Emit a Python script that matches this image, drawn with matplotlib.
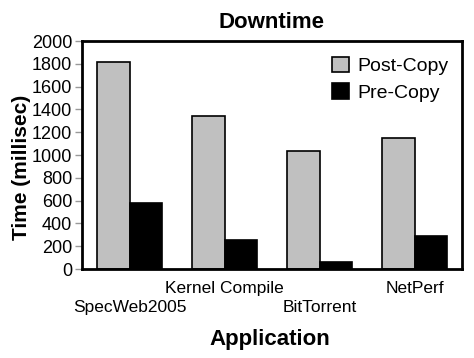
import numpy as np
import matplotlib.pyplot as plt

plt.rcParams['font.family'] = ['Liberation Sans', 'DejaVu Sans']

# data
apps = ['SpecWeb2005', 'Kernel Compile', 'BitTorrent', 'NetPerf']
post_copy = [1820, 1340, 1035, 1150]
pre_copy = [580, 255, 60, 288]

W, H = 474, 358
fig = plt.figure(figsize=(W / 100, H / 100), dpi=100)
ax = fig.add_axes([82 / W, 1 - 269 / H, 380 / W, 228 / H])

x = np.arange(len(apps))
w = 0.337
ax.bar(x - w / 2, post_copy, w, color='#c0c0c0', edgecolor='black', linewidth=1.2, label='Post-Copy')
ax.bar(x + w / 2, pre_copy, w, color='black', edgecolor='black', linewidth=1.2, label='Pre-Copy')

ax.set_xlim(-0.5, len(apps) - 0.5)
ax.set_ylim(0, 2000)
ax.set_yticks(range(0, 2001, 200))
ax.tick_params(axis='y', labelsize=13, length=5, width=1, color='#999999', pad=2)
ax.set_xticks(x)
ax.set_xticklabels([])
ax.tick_params(axis='x', length=0)
# staggered category labels (offsets in points, 72 pt = 100 px)
for i, name in enumerate(apps):
    dy = -27.5 if i % 2 == 0 else -14
    ax.annotate(name, (i, 0), xytext=(0, dy), textcoords='offset points',
                ha='center', va='center', fontsize=12.5, annotation_clip=False)

for s in ax.spines.values():
    s.set_linewidth(2)

fig.text(271 / W, 1 - 23 / H, 'Downtime', fontsize=16, fontweight='bold',
         ha='center', va='center')
fig.text(22 / W, 1 - 167 / H, 'Time (millisec)', fontsize=15, fontweight='bold',
         ha='center', va='center', rotation=90)
fig.text(270 / W, 1 - 340 / H, 'Application', fontsize=16, fontweight='bold',
         ha='center', va='center')

leg = ax.legend(loc='upper right', frameon=False, fontsize=14, handlelength=0.85,
                handleheight=0.85, handletextpad=0.45, labelspacing=0.4,
                borderaxespad=0.3, bbox_to_anchor=(1.0, 0.99))

fig.savefig('out.png', dpi=100)
